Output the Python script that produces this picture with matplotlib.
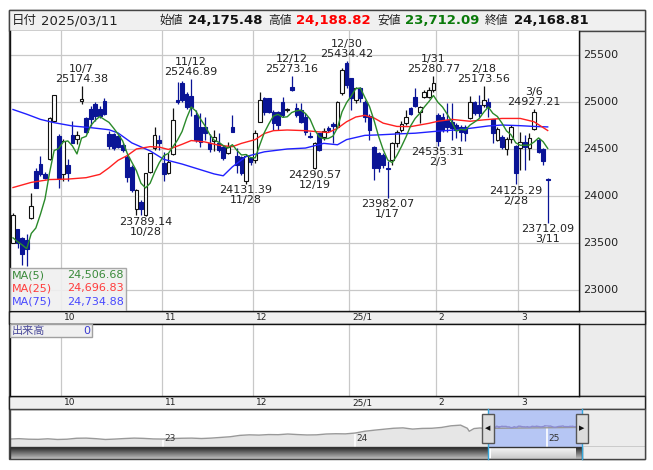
import matplotlib
matplotlib.use("Agg")
import matplotlib.pyplot as plt
from matplotlib.patches import Rectangle
import numpy as np
import pandas as pd

W, H = 653, 470
JP = ['Noto Sans CJK JP', 'DejaVu Sans']

# ---- data -------------------------------------------------------------
month_days = {
    (2024, 9): [12, 13, 17, 18, 19, 20, 24, 25, 26, 27, 30],
    (2024, 10): [1, 2, 3, 4, 7, 8, 9, 10, 11, 15, 16, 17, 18, 21, 22, 23, 24, 25, 28, 29, 30, 31],
    (2024, 11): [1, 5, 6, 7, 8, 11, 12, 13, 14, 15, 18, 19, 20, 21, 22, 25, 26, 27, 28, 29],
    (2024, 12): [2, 3, 4, 5, 6, 9, 10, 11, 12, 13, 16, 17, 18, 19, 20, 23, 24, 25, 26, 27, 30],
    (2025, 1): [6, 7, 8, 9, 10, 14, 15, 16, 17, 20, 21, 22, 23, 24, 27, 28, 29, 30, 31],
    (2025, 2): [3, 4, 5, 6, 7, 10, 12, 13, 14, 17, 18, 19, 20, 21, 25, 26, 27, 28],
    (2025, 3): [3, 4, 5, 6, 7, 10, 11],
}
month_labels = ['10', '11', '12', '25/1', '2', '3']

opens = [23500, 23644, 23555, 23537, 23768, 24265, 24336, 24230, 24397, 24798, 24638,
         24230, 24325, 24645, 24603, 25010, 24833, 24930, 24975, 24922, 25010, 24656, 24656, 24640, 24540,
         24418, 24312, 23858, 23940, 23795, 24260, 24506, 24600,
         24347, 24248, 24447, 25020, 25200, 25090, 25060, 24862, 24738, 24738, 24560, 24588, 24560, 24525,
         24453, 24738, 24425, 24418, 24163, 24400,
         24383, 24791, 25039, 25039, 24897, 24897, 25003, 24918, 25163, 24932, 24915, 24844, 24640, 24300,
         24666, 24631, 24720, 24770, 24738, 25092, 25411,
         25252, 25020, 25145, 25004, 24850, 24520, 24454, 24440, 24300, 24380, 24560, 24700, 24773, 24933,
         25057, 24898, 25057, 25050, 25128,
         24860, 24837, 24809, 24790, 24756, 24738, 24738, 24826, 25004, 24968, 24968, 25004, 24816, 24596,
         24624, 24505, 24603, 24532,
         24508, 24578, 24508, 24709, 24596, 24496, 24175.48]
highs = [23815, 23650, 23560, 23600, 24034, 24300, 24425, 24260, 24840, 25075, 24656,
         24602, 24390, 24800, 24690, 25174.38, 24840, 24960, 24995, 24960, 25046, 24690, 24670, 24650, 24560,
         24450, 24330, 24070, 23960, 24245, 24460, 24738, 24650,
         24471, 24460, 24932, 25210, 25220, 25110, 25246.89, 24915, 24880, 24844, 24660, 24700, 24666, 24540,
         24578, 24862, 24507, 24430, 24447, 24420,
         24702, 25110, 25050, 25045, 24915, 24905, 25057, 24940, 25273.16, 24986, 24986, 24880, 24685, 24575,
         24670, 24720, 24745, 24790, 25010, 25358, 25434.42,
         25260, 25160, 25163, 25020, 24870, 24530, 24470, 24460, 24370, 24570, 24700, 24800, 24915, 24950,
         25146, 24960, 25128, 25163, 25280.77,
         24880, 24887, 24990, 24990, 24775, 24760, 24755, 25064, 25010, 25074, 25173.56, 25040, 24820, 24738,
         24650, 24630, 24756, 24540,
         24685, 24650, 24667, 24927.21, 24615, 24507, 24188.82]
lows = [23495, 23450, 23270, 23253, 23760, 24080, 24210, 24180, 24380, 24790, 24088,
        24160, 24160, 24560, 24550, 24980, 24670, 24745, 24800, 24830, 24865, 24496, 24490, 24510, 24470,
        24153, 24046, 23798, 23798, 23789.14, 24240, 24490, 24489,
        24163, 24233, 24436, 24980, 25000, 24930, 24850, 24578, 24525, 24596, 24470, 24480, 24470, 24380,
        24447, 24680, 24241, 24223, 24131.39, 24330,
        24347, 24785, 24862, 24880, 24702, 24702, 24844, 24895, 25120, 24844, 24780, 24650, 24615, 24290.57,
        24478, 24600, 24685, 24560, 24730, 25070, 25150,
        24915, 24990, 25004, 24791, 24600, 24170, 24260, 24300, 23982.07, 24330, 24520, 24680, 24756, 24860,
        24950, 24773, 25040, 25040, 25110,
        24535.31, 24685, 24685, 24600, 24614, 24580, 24580, 24815, 24860, 24844, 24950, 24844, 24560, 24580,
        24505, 24440, 24560, 24125.29,
        24277, 24277, 24383, 24700, 24460, 24330, 23712.09]
closes = [23800, 23502, 23378, 23438, 23892, 24088, 24230, 24195, 24833, 25071, 24194,
          24585, 24247, 24567, 24645, 25035, 24680, 24815, 24850, 24850, 24870, 24531, 24513, 24525, 24489,
          24205, 24064, 24064, 23858, 24240, 24453, 24648, 24568,
          24234, 24365, 24808, 25000, 25025, 24950, 24950, 24596, 24578, 24667, 24500, 24630, 24489, 24400,
          24525, 24685, 24330, 24241, 24425, 24365,
          24666, 25021, 24897, 24897, 24773, 24756, 24862, 24924, 25127, 24862, 24791, 24684, 24625, 24560,
          24489, 24688, 24700, 24745, 25004, 25340, 25181,
          25039, 25145, 25039, 24840, 24700, 24300, 24295, 24330, 24290, 24560, 24680, 24770, 24844, 24873,
          24958, 24950, 25110, 25128, 25199,
          24590, 24703, 24738, 24720, 24700, 24684, 24667, 25004, 24880, 24880, 25021, 24950, 24667, 24710,
          24525, 24610, 24738, 24248,
          24578, 24525, 24620, 24897, 24470, 24377.59, 24168.81]

# MA(5) values read before enough closes exist
ma5_head = [23555, 23515, 23480, 23440]
# MA(25) / MA(75) (candle index, value)
ma25_idx = [0, 4, 8, 12, 16, 19, 21, 23, 25, 27, 30, 32, 34, 37, 39, 42, 45, 48, 50, 53, 55, 57, 60, 64,
            67, 69, 71, 73, 75, 77, 79, 81, 84, 87, 91, 93, 96, 100, 103, 107, 111, 114, 117]
ma25_val = [24090, 24145, 24175, 24180, 24195, 24230, 24300, 24380, 24430, 24500, 24525, 24520, 24495,
            24550, 24590, 24575, 24540, 24525, 24560, 24600, 24665, 24695, 24702, 24695, 24682, 24675,
            24720, 24790, 24840, 24858, 24830, 24775, 24740, 24738, 24773, 24795, 24815, 24795, 24810,
            24825, 24825, 24790, 24696.83]
ma75_idx = [0, 3, 6, 9, 13, 17, 21, 23, 26, 30, 33, 37, 41, 44, 46, 48, 51, 55, 60, 64, 68, 71, 73, 77,
            80, 84, 88, 93, 96, 100, 104, 107, 111, 114, 117]
ma75_val = [24920, 24870, 24815, 24780, 24745, 24727, 24705, 24670, 24565, 24480, 24390, 24340, 24280,
            24235, 24215, 24310, 24420, 24470, 24500, 24510, 24560, 24545, 24600, 24645, 24650, 24660,
            24668, 24690, 24700, 24720, 24745, 24755, 24748, 24740, 24734.88]

price_ticks = [23000, 23500, 24000, 24500, 25000, 25500]
mark_high = [15, 39, 61, 73, 92, 103, 114]
mark_low = [29, 51, 66, 82, 93, 110, 117]

# navigator history (fractional year, index level) before the shown period
nav_year = [2022.20, 2022.25, 2022.30, 2022.35, 2022.40, 2022.45, 2022.50, 2022.55, 2022.60, 2022.65,
            2022.70, 2022.75, 2022.80, 2022.85, 2022.90, 2022.95, 2023.00, 2023.05, 2023.10, 2023.15,
            2023.20, 2023.25, 2023.30, 2023.35, 2023.40, 2023.45, 2023.50, 2023.55, 2023.60, 2023.65,
            2023.70, 2023.75, 2023.80, 2023.85, 2023.90, 2023.95, 2024.00, 2024.05, 2024.10, 2024.15,
            2024.20, 2024.25, 2024.30, 2024.35, 2024.40, 2024.45, 2024.50, 2024.55, 2024.585, 2024.595,
            2024.62, 2024.65, 2024.68]
nav_val = [15600, 15900, 15500, 15400, 15800, 15300, 15500, 16200, 16300, 15900,
           15300, 15600, 16000, 16300, 16100, 15700, 15600, 16000, 16200, 16300,
           16000, 16300, 16800, 17300, 18300, 18700, 18500, 18900, 18800, 19300,
           18900, 18600, 18700, 19300, 19500, 19400, 20000, 21300, 22100, 22800,
           23500, 23800, 22900, 23400, 23500, 24100, 25300, 25800, 23500, 21300,
           23300, 23700, 23400]
nav_years_lab = ['23', '24', '25']

# ---- derived ----------------------------------------------------------
dates = pd.to_datetime([f"{y}-{m:02d}-{d:02d}" for (y, m), ds in month_days.items() for d in ds])
n = len(dates)
xi = np.arange(n)
o, h, l, c = map(np.array, (opens, highs, lows, closes))
ma5 = pd.Series(c).rolling(5).mean().to_numpy()
ma5[:4] = ma5_head
month_start = [i for i in range(1, n) if dates[i].month != dates[i - 1].month]
frac_year = dates.year + (dates.dayofyear - 0.5) / np.where(dates.is_leap_year, 366, 365)

# ---- figure helpers --------------------------------------------------
fig = plt.figure(figsize=(W / 100, H / 100), dpi=100)


def frac(x0, y0, x1, y1):
    return [x0 / W, 1 - y1 / H, (x1 - x0) / W, (y1 - y0) / H]


def rect(x0, y0, x1, y1, fc, ec='none', lw=0.8, z=-5):
    fig.add_artist(Rectangle((x0 / W, 1 - y1 / H), (x1 - x0) / W, (y1 - y0) / H,
                             transform=fig.transFigure, facecolor=fc, edgecolor=ec,
                             linewidth=lw, zorder=z))


def text(x, y, s, **kw):
    kw.setdefault('va', 'center')
    fig.text(x / W, 1 - y / H, s, **kw)


GRID = '#c8c8c8'
NAVY = '#0a1496'
x_lo, x_hi = (10 - 13) / 4.57, (579 - 13) / 4.57


def xpix(v):
    return 10 + (v - x_lo) / (x_hi - x_lo) * 569


# backgrounds / frames
rect(9, 10, 645, 459, 'white', '#444444', 1.0, z=-10)
rect(9, 10, 645, 31, '#f0f0f0', '#444444', 1.0)
rect(579, 31, 645, 396, '#ececec', '#444444', 1.0)
rect(9, 311, 645, 324, '#f0f0f0', '#222222', 1.0)
rect(9, 396, 645, 409, '#f0f0f0', '#222222', 1.0)
rect(582, 409, 645, 459, '#ececec', '#444444', 1.0)

# ---- header ----------------------------------------------------------
text(12, 20.5, '日付', family=JP, fontsize=9, color='#222222')
text(41, 20.5, '2025/03/11', fontsize=9.5, color='#222222')
hdr = [(160, '始値', 188, '24,175.48', '#111111'), (268, '高値', 296, '24,188.82', '#ff0000'),
       (377, '安値', 405, '23,712.09', '#0a7a0a'), (485, '終値', 514, '24,168.81', '#111111')]
for kx, ks, vx, vs, col in hdr:
    text(kx, 20.5, ks, family=JP, fontsize=8.5, color='#222222')
    text(vx, 20.5, vs, fontsize=9.5, fontweight='bold', color=col)

# ---- price panel -----------------------------------------------------
ax = fig.add_axes(frac(10, 31, 579, 311))
ax.set_xlim(x_lo, x_hi)
ax.set_ylim(22777, 25755)
ax.set_yticks(price_ticks)
ax.set_xticks(np.array(month_start) - 0.5)
ax.grid(True, color=GRID, lw=0.9)
ax.set_axisbelow(True)
ax.tick_params(length=0, labelleft=False, labelbottom=False)
for s in ax.spines.values():
    s.set_color('#111111')
    s.set_linewidth(1.0)
ax.spines['top'].set_visible(False)

up = c >= o
down = ~up
ax.vlines(xi[up], l[up], h[up], color='#111111', lw=0.9, zorder=3)
ax.vlines(xi[down], l[down], h[down], color=NAVY, lw=0.9, zorder=3)
body_lo = np.minimum(o, c)
body_h = np.maximum(np.abs(c - o), 8)
ax.bar(xi[up], body_h[up], bottom=body_lo[up], width=0.8, facecolor='white',
       edgecolor='#111111', linewidth=0.8, zorder=4)
ax.bar(xi[down], body_h[down], bottom=body_lo[down], width=0.8, facecolor=NAVY,
       edgecolor=NAVY, linewidth=0.8, zorder=4)

ax.plot(xi, np.interp(xi, ma75_idx, ma75_val), color='#2020ff', lw=1.0, zorder=5)
ax.plot(xi, np.interp(xi, ma25_idx, ma25_val), color='#ff2020', lw=1.0, zorder=5)
ax.plot(xi, ma5, color='#2a8a2a', lw=1.0, zorder=6)

for i in mark_high:
    ax.annotate(f"{dates[i].month}/{dates[i].day}\n{h[i]:.2f}", xy=(i, h[i]), xytext=(0, 1.5),
                textcoords='offset points', ha='center', va='bottom', fontsize=8,
                color='#222222', linespacing=1.0, zorder=7)
for i in mark_low:
    ax.annotate(f"{l[i]:.2f}\n{dates[i].month}/{dates[i].day}", xy=(i, l[i]), xytext=(0, -1),
                textcoords='offset points', ha='center', va='top', fontsize=8,
                color='#222222', linespacing=1.0, zorder=7)

for p in price_ticks:
    ax.annotate(str(p), xy=(1, p), xycoords=('axes fraction', 'data'), xytext=(3, 0),
                textcoords='offset points', va='center', fontsize=8, color='#222222',
                annotation_clip=False)

# MA legend box
ax.add_patch(Rectangle((0, 0), 116 / 569, 43 / 280, transform=ax.transAxes,
                       facecolor='#f0f0f0', edgecolor='#a0a0a0', lw=1.0, alpha=0.9, zorder=8))
leg = [('MA(5)', ma5[-1], '#3a8a3a'), ('MA(25)', ma25_val[-1], '#ff3c3c'),
       ('MA(75)', ma75_val[-1], '#4848ff')]
for k, (name, val, col) in enumerate(leg):
    yy = 275 + k * 13.5
    text(12, yy, name, fontsize=8, color=col, zorder=9)
    text(124, yy, f"{val:,.2f}", fontsize=8, color=col, ha='right', zorder=9)

# month labels in the two strips
for ms, lab in zip(month_start, month_labels):
    px = xpix(ms - 0.5)
    text(px + 3, 317.5, lab, fontsize=6.5, color='#222222')
    text(px + 3, 402.5, lab, fontsize=6.5, color='#222222')

# ---- volume panel ----------------------------------------------------
vax = fig.add_axes(frac(10, 324, 579, 396))
vax.set_xlim(x_lo, x_hi)
vax.set_ylim(0, 1)
vax.set_xticks(np.array(month_start) - 0.5)
vax.set_yticks([])
vax.grid(True, axis='x', color=GRID, lw=0.9)
vax.tick_params(length=0, labelbottom=False)
for s in vax.spines.values():
    s.set_color('#111111')
    s.set_linewidth(1.0)
vax.add_patch(Rectangle((0, 1 - 13 / 72), 82 / 569, 13 / 72, transform=vax.transAxes,
                        facecolor='#f0f0f0', edgecolor='#a0a0a0', lw=1.0, zorder=5))
text(12, 331, '出来高', family=JP, fontsize=8, color='#4a4a9a', zorder=9)
text(90, 331, '0', fontsize=8, color='#3a3ad0', ha='right', zorder=9)

# ---- navigator -------------------------------------------------------
nx = np.concatenate([nav_year, frac_year])
nv = np.concatenate([nav_val, c])
nax = fig.add_axes(frac(10, 409, 645, 447))
yr0 = 2023 + (10 - 163) / 192
yr1 = 2023 + (645 - 163) / 192
nax.set_xlim(yr0, yr1)
nax.set_ylim(9800, 37600)
nax.axis('off')
nax.fill_between(nx, 9800, nv, color='#e6e6e6', lw=0, zorder=1)
sel0, sel1 = frac_year[0] - 0.005, 2023 + (582 - 163) / 192
nax.axvspan(sel0, sel1, color='#b6c6f4', lw=0, zorder=2)
for k, yl in enumerate(nav_years_lab):
    yv = 2023 + k
    nax.vlines(yv, 9800, np.interp(yv, nx, nv), color='white', lw=1.2, zorder=3)
    nax.text(yv + 0.005, 14500, yl, fontsize=6.5, color='#333333', zorder=6)
m = nx < sel0
keep = m | (np.roll(m, -1) & ~m)
nax.plot(nx[keep], nv[keep], color='#999999', lw=1.0, zorder=4)
nax.plot(nx[~m], nv[~m], color='#8c8cd0', lw=1.0, zorder=4)
nax.axvspan(sel1, yr1, color='#ececec', lw=0, zorder=5)
nax.add_patch(Rectangle((0, 0), 1, 1, transform=nax.transAxes, fill=False,
                        edgecolor='#444444', lw=1.0, zorder=6))
sx0 = 163 + (sel0 - 2023) * 192
for hx, mk in ((sx0, '◀'), (582, '▶')):
    fig.add_artist(plt.Line2D([hx / W] * 2, [1 - 459 / H, 1 - 409 / H], color='#35a8dc',
                              lw=1.0, transform=fig.transFigure, zorder=6))
    rect(hx - 6, 414, hx + 6, 443, '#dcdcdc', '#555555', 1.0, z=7)
    text(hx, 428.5, mk, fontsize=5, ha='center', color='#111111', zorder=8)

# scrollbar
sb = fig.add_axes(frac(10, 447, 582, 459))
sb.set_xlim(10, 582)
sb.set_ylim(0, 1)
sb.axis('off')
grad = np.linspace(0.15, 0.75, 20)[:, None]
sb.imshow(grad, extent=(10, sx0, 0, 1), cmap='gray', vmin=0, vmax=1, aspect='auto', origin='upper')
sb.imshow(np.linspace(0.97, 0.78, 20)[:, None], extent=(sx0 + 3, 576, 0, 1), cmap='gray',
          vmin=0, vmax=1, aspect='auto', origin='upper')
sb.imshow(grad, extent=(576, 582, 0, 1), cmap='gray', vmin=0, vmax=1, aspect='auto', origin='upper')
sb.add_patch(Rectangle((10, 0), 572, 1, fill=False, edgecolor='#333333', lw=1.0))

fig.savefig('out.png', dpi=100)
